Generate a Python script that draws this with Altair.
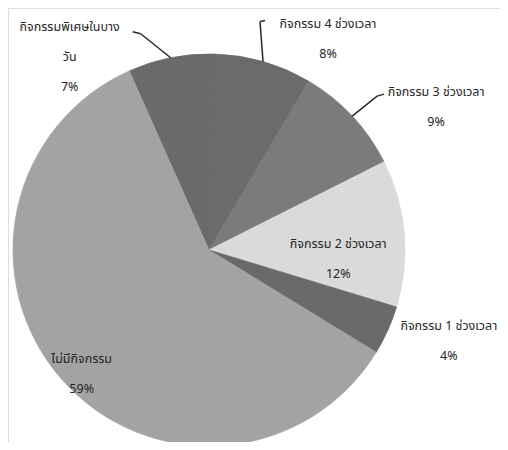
import math
import altair as alt
import pandas as pd

# ---- data ----
categories = [
    "กิจกรรมพิเศษในบางวัน",
    "กิจกรรม 4 ช่วงเวลา",
    "กิจกรรม 3 ช่วงเวลา",
    "กิจกรรม 2 ช่วงเวลา",
    "กิจกรรม 1 ช่วงเวลา",
    "ไม่มีกิจกรรม",
]
label_text = [
    "กิจกรรมพิเศษในบาง\nวัน",
    "กิจกรรม 4 ช่วงเวลา",
    "กิจกรรม 3 ช่วงเวลา",
    "กิจกรรม 2 ช่วงเวลา",
    "กิจกรรม 1 ช่วงเวลา",
    "ไม่มีกิจกรรม",
]
percent = [7, 8, 9, 12, 4, 59]

# ---- styles ----
colors = ["#6a6a6a", "#6b6b6b", "#7b7b7b", "#dadada", "#6a6a6a", "#a3a3a3"]
# first-line offset of each label from the slice's outer-edge midpoint (px)
label_nudge = [(-101, -31), (65, -38), (84, -24), (-66, 11), (61, -4), (20, -20)]
# leader lines: elbow and end offsets from the edge midpoint (None = no leader)
leader = [((-30, -24), (-38, -26)), ((-3, -40), (2, -41)), ((25, -20), (32, -22)),
          None, None, None]

W, H = 492, 434
CX, CY, R = 201, 242, 196
START = math.radians(336)

rows = []
for i, c in enumerate(categories):
    ld = leader[i]
    rows.append({
        "category": c,
        "value": percent[i],
        "order": i,
        "label": f"{label_text[i]}\n{percent[i]}%",
        "ldx": label_nudge[i][0], "ldy": label_nudge[i][1],
        "has_leader": ld is not None,
        "edx": ld[0][0] if ld else 0, "edy": ld[0][1] if ld else 0,
        "fdx": ld[1][0] if ld else 0, "fdy": ld[1][1] if ld else 0,
    })
df = pd.DataFrame(rows)

base = alt.Chart(df)
cscale = alt.Scale(domain=categories, range=colors)

arcs = base.mark_arc(outerRadius=R, strokeWidth=0.8).encode(
    theta=alt.Theta("value:Q", stack=True,
                    scale=alt.Scale(range=[START, START + 2 * math.pi])),
    order=alt.Order("order:Q"),
    color=alt.Color("category:N", scale=cscale, legend=None),
    stroke=alt.Stroke("category:N", scale=cscale, legend=None),
    x=alt.value(CX), y=alt.value(CY),
)

geo = base.transform_window(
    cum="sum(value)", sort=[alt.SortField("order")], frame=[None, 0]
).transform_joinaggregate(total="sum(value)").transform_calculate(
    mid=f"{START} + 2*PI*(datum.cum - datum.value/2)/datum.total"
).transform_calculate(
    ex=f"{CX} + {R}*sin(datum.mid)",
    ey=f"{CY} - {R}*cos(datum.mid)",
).transform_calculate(
    tx="datum.ex + datum.ldx", ty="datum.ey + datum.ldy",
    bx="datum.ex + datum.edx", by="datum.ey + datum.edy",
    fx="datum.ex + datum.fdx", fy="datum.ey + datum.fdy",
)

texts = geo.mark_text(
    lineBreak="\n", lineHeight=30, fontSize=12.5, color="#262626",
    font="Tahoma, 'Noto Sans Thai', 'Noto Sans', sans-serif",
    align="center", baseline="middle",
).encode(
    x=alt.X("tx:Q", scale=None, axis=None),
    y=alt.Y("ty:Q", scale=None, axis=None),
    text="label:N",
)

lead_geo = geo.transform_filter("datum.has_leader")
rule1 = lead_geo.mark_rule(color="#2a2a2a", strokeWidth=1.5).encode(
    x=alt.X("ex:Q", scale=None, axis=None), y=alt.Y("ey:Q", scale=None, axis=None),
    x2="bx:Q", y2="by:Q",
)
rule2 = lead_geo.mark_rule(color="#2a2a2a", strokeWidth=1.5).encode(
    x=alt.X("bx:Q", scale=None, axis=None), y=alt.Y("by:Q", scale=None, axis=None),
    x2="fx:Q", y2="fy:Q",
)

chart = alt.layer(arcs, rule1, rule2, texts).properties(
    width=W, height=H, padding=0, autosize=alt.AutoSizeParams(type="none"),
).configure_view(strokeWidth=0, stroke="transparent").configure(background="white")

chart.save("out.html", embed_options={"renderer": "svg", "actions": False})
